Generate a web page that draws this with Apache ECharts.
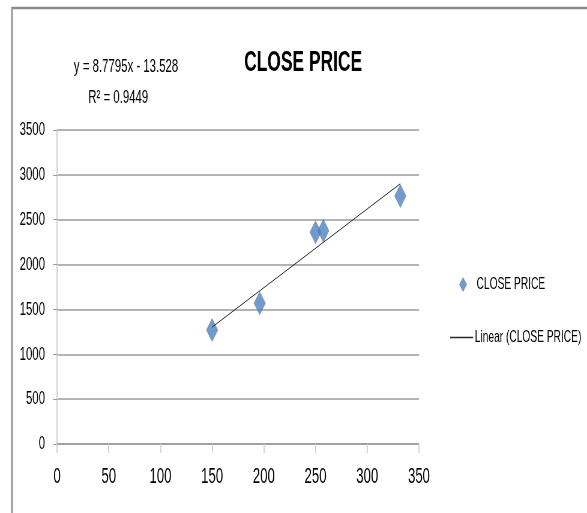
<!DOCTYPE html>
<html>
<head>
<meta charset="utf-8">
<script src="https://cdn.jsdelivr.net/npm/echarts@6/dist/echarts.min.js"></script>
<style>
  html, body { margin: 0; padding: 0; background: #fff; overflow: hidden; width: 587px; height: 513px; }
  /* The chart is laid out wider and squeezed horizontally to get condensed lettering */
  #chart { width: 978px; height: 513px; transform: scaleX(0.6002); transform-origin: 0 0; }
</style>
</head>
<body>
<div id="chart"></div>
<script>
// Closing price observations
const closeX = [150, 196, 250, 257.5, 332];
const closeY = [1271, 1568, 2360, 2378, 2764];

// Linear trendline fitted to the observations
const trendSlope = 8.7795;
const trendIntercept = -13.528;
const trendR2 = 0.9449;

// Axis ticks
const xTicks = [0, 50, 100, 150, 200, 250, 300, 350];
const yTicks = [0, 500, 1000, 1500, 2000, 2500, 3000, 3500];

const seriesName = 'CLOSE PRICE';
const trendName = 'Linear (CLOSE PRICE)';
const FONT = '"Liberation Sans", Arial, sans-serif';

const points = closeX.map((x, i) => [x, closeY[i]]);
const xMin = Math.min(...closeX), xMax = Math.max(...closeX);
const trendPoints = [xMin, xMax].map(x => [x, trendSlope * x + trendIntercept]);

const eqText = 'y = ' + trendSlope + 'x - ' + Math.abs(trendIntercept);
const r2Text = 'R\u00B2 = ' + trendR2;
const plain = v => String(v);

const chart = echarts.init(document.getElementById('chart'), null, { renderer: 'canvas' });
chart.setOption({
  animation: false,
  backgroundColor: '#fff',
  title: {
    text: 'CLOSE PRICE',
    left: 500, textAlign: 'center',
    top: 43,
    textStyle: { fontFamily: FONT, fontSize: 29, fontWeight: 'bold', color: '#000' }
  },
  legend: [
    {
      data: [{ name: seriesName, icon: 'diamond' }],
      orient: 'vertical', left: 760, top: 271,
      itemWidth: 13, itemHeight: 15,
      textStyle: { fontFamily: FONT, fontSize: 17, color: '#000', padding: [0, 0, 0, 11] }
    },
    {
      data: [{ name: trendName, icon: 'path://M0,0 L30,0 L30,1 L0,1 Z' }],
      orient: 'vertical', left: 745, top: 324,
      itemWidth: 38, itemHeight: 1.5,
      textStyle: { fontFamily: FONT, fontSize: 17, color: '#000', padding: [0, 0, 0, -2] }
    }
  ],
  grid: { left: 95, right: 280, top: 130, bottom: 69, containLabel: false },
  xAxis: {
    type: 'value', min: xTicks[0], max: xTicks[xTicks.length - 1], interval: 50,
    axisLine: { show: true, lineStyle: { color: '#9a9a9a', width: 1.5 } },
    axisTick: { show: true, length: 9, lineStyle: { color: '#d4d4d4', width: 2 } },
    axisLabel: { margin: 22, fontFamily: FONT, fontSize: 22, color: '#000', formatter: plain },
    splitLine: { show: false }
  },
  yAxis: {
    type: 'value', min: yTicks[0], max: yTicks[yTicks.length - 1], interval: 500,
    axisLine: { show: true, lineStyle: { color: '#d4d4d4', width: 2 } },
    axisTick: { show: true, length: 7, lineStyle: { color: '#9a9a9a', width: 1 } },
    axisLabel: { margin: 20, fontFamily: FONT, fontSize: 19, color: '#000', formatter: plain },
    splitLine: { show: true, lineStyle: { color: '#9a9a9a', width: 1.5 } }
  },
  graphic: [
    {
      type: 'rect', silent: true, z: -1,
      shape: { x: 20, y: 8, width: 1100, height: 600 },
      style: { fill: null, stroke: '#8a8a8a', lineWidth: 2.5 }
    },
    {
      type: 'text', x: 210, y: 67,
      style: { text: eqText, font: '19px ' + FONT, fill: '#000', textAlign: 'center', textVerticalAlign: 'middle' }
    },
    {
      type: 'text', x: 197, y: 98,
      style: { text: r2Text, font: '19px ' + FONT, fill: '#000', textAlign: 'center', textVerticalAlign: 'middle' }
    }
  ],
  series: [
    {
      name: seriesName, type: 'scatter', data: points,
      symbol: 'diamond', symbolSize: [20, 24],
      itemStyle: { color: '#4f81bd' }, z: 3
    },
    {
      name: trendName, type: 'line', data: trendPoints,
      showSymbol: false, symbol: 'none',
      lineStyle: { color: '#262626', width: 1 },
      itemStyle: { color: '#262626' }, z: 4
    }
  ]
});
</script>
</body>
</html>
